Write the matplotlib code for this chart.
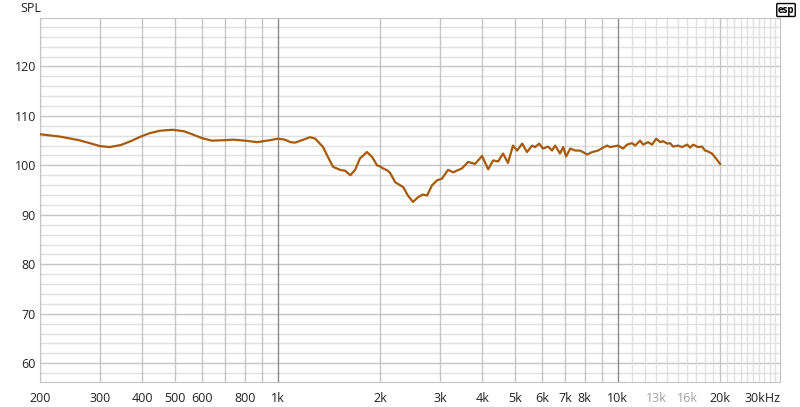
import numpy as np
import matplotlib.pyplot as plt

# frequency response (Hz, dB SPL)
freq = [200, 230, 260, 280, 300, 320, 345, 370, 395, 420, 450, 490, 530, 560,
        600, 640, 700, 740, 800, 870, 950, 1000, 1050, 1090, 1125, 1190, 1245,
        1290, 1360, 1405, 1455, 1525, 1580, 1635, 1690, 1745, 1830, 1895, 1960,
        2000, 2040, 2100, 2140, 2215, 2340, 2415, 2500, 2590, 2675, 2750, 2845,
        2945, 3040, 3170, 3280, 3485, 3630, 3805, 3990, 4160, 4300, 4450, 4600,
        4755, 4920, 5060, 5235, 5410, 5600, 5715, 5875, 6025, 6240, 6410, 6545,
        6765, 6910, 7050, 7250, 7500, 7750, 8130, 8415, 8755, 9060, 9300, 9490,
        10020, 10370, 10650, 11020, 11250, 11630, 11880, 12280, 12620, 12970,
        13330, 13600, 13970, 14250, 14550, 15040, 15460, 16000, 16330, 16660,
        17220, 17700, 18060, 18320, 18920, 19450, 20000]
spl = [106.3, 105.8, 105.1, 104.5, 103.9, 103.7, 104.1, 104.9, 105.8, 106.5,
       107.0, 107.2, 106.9, 106.3, 105.5, 105.0, 105.1, 105.2, 105.0, 104.7,
       105.1, 105.4, 105.2, 104.7, 104.6, 105.2, 105.7, 105.4, 103.7, 101.7,
       99.7, 99.1, 98.9, 98.0, 99.1, 101.4, 102.7, 101.7, 100.0, 99.8, 99.4,
       99.0, 98.5, 96.6, 95.6, 93.9, 92.6, 93.6, 94.1, 93.9, 96.0, 97.0, 97.3,
       99.1, 98.6, 99.4, 100.7, 100.3, 101.9, 99.2, 101.0, 100.8, 102.4, 100.5,
       104.0, 103.0, 104.4, 102.7, 104.0, 103.7, 104.4, 103.4, 103.8, 103.0,
       104.0, 102.4, 103.7, 101.8, 103.4, 103.0, 103.0, 102.2, 102.7, 103.0,
       103.6, 104.0, 103.7,
       104.0, 103.4, 104.2, 104.5, 104.0, 105.0, 104.2, 104.7, 104.2, 105.4,
       104.7, 104.9, 104.4, 104.5, 103.8, 104.0, 103.7, 104.2, 103.6, 104.2,
       103.7, 103.8, 103.0, 102.9, 102.4, 101.4, 100.3]

xtick_vals = [200, 300, 400, 500, 600, 800, 1000, 2000, 3000, 4000, 5000,
              6000, 7000, 8000, 10000, 13000, 16000, 20000, 30000]
xtick_labels = ['200', '300', '400', '500', '600', '800', '1k', '2k', '3k',
                '4k', '5k', '6k', '7k', '8k', '10k', '13k', '16k', '20k', '30kHz']
ytick_vals = [60, 70, 80, 90, 100, 110, 120]

plt.rcParams['font.family'] = ['Open Sans', 'DejaVu Sans']

fig = plt.figure(figsize=(8, 4.07), dpi=100)
ax = fig.add_axes([40 / 800, 25 / 407, 740 / 800, 364 / 407])
ax.set_xscale('log')
ax.set_xlim(200, 30000)
ax.set_ylim(56.2, 129.8)

# grid
for y in range(58, 130, 2):
    c = '#c4c4c4' if y % 10 == 0 else '#e0e0e0'
    ax.axhline(y, color=c, lw=1, zorder=1)
for f in list(range(200, 1000, 100)) + list(range(2000, 10000, 1000)) + [20000]:
    ax.axvline(f, color='#c4c4c4', lw=1, zorder=1)
for f in list(range(11000, 20000, 1000)) + list(range(21000, 30000, 1000)):
    ax.axvline(f, color='#e0e0e0', lw=1, zorder=1)
for f in [1000, 10000]:
    ax.axvline(f, color='#8a8a8a', lw=1, zorder=1)

ax.plot(freq, spl, color='#a65a0c', lw=1.6, zorder=3, solid_joinstyle='round')

ax.set_xticks(xtick_vals)
ax.set_xticklabels(xtick_labels)
ax.xaxis.set_minor_locator(plt.NullLocator())
ax.set_yticks(ytick_vals)
ax.tick_params(length=0, labelsize=9, colors='#222222')
ax.tick_params(axis='x', pad=7)
ax.tick_params(axis='y', pad=3)
for lbl in ax.get_xticklabels():
    if lbl.get_text() in ('13k', '16k'):
        lbl.set_color('#a0a0a0')
    if lbl.get_text() == '30kHz':
        lbl.set_horizontalalignment('right')
        lbl.set_x(1.0)

for s in ax.spines.values():
    s.set_color('#c4c4c4')

fig.text(20 / 800, 1 - 9 / 407, 'SPL', fontsize=9, color='#222222', va='center', ha='left')
fig.text(786 / 800, 1 - 10 / 407, 'esp', fontsize=7, fontweight='bold', color='black',
         va='center', ha='center',
         bbox=dict(boxstyle='round,pad=0.1', fc='white', ec='black', lw=1))

fig.savefig('out.png', dpi=100)
